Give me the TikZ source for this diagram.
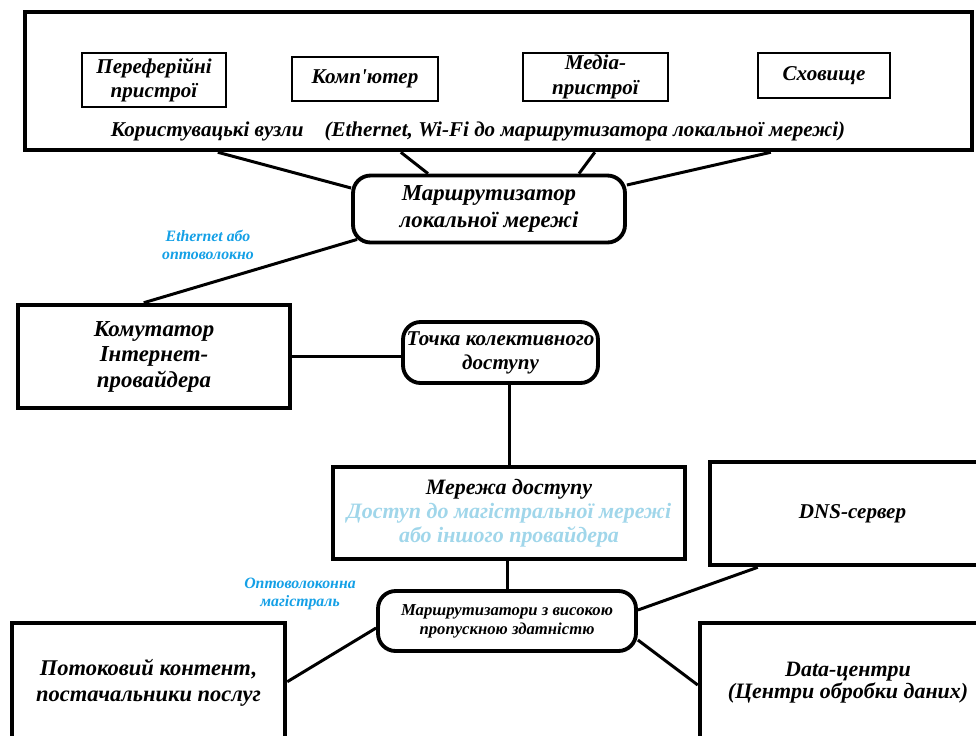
\documentclass[tikz,border=0pt]{standalone}
\usepackage{fontspec}
\setmainfont{Liberation Serif}
\usepackage{xcolor}
\usetikzlibrary{calc}
\definecolor{linkblue}{RGB}{20,160,230}
\definecolor{paleblue}{RGB}{160,214,234}

\begin{document}
\begin{tikzpicture}[x=0.02cm, y=-0.02cm,
  txt/.style 2 args={font=\bfseries\itshape\fontsize{#1}{#2}\selectfont, align=center},
  bigbox/.style={draw, line width=2.6pt, inner sep=0pt},
  smallbox/.style={draw, line width=0.8pt, inner sep=0pt},
  roundbox/.style={draw, line width=2.2pt, rounded corners=10pt, inner sep=0pt},
  link/.style={line width=1.7pt},
  linklabel/.style={txt={9}{10.5}, text=linkblue}]
\useasboundingbox (0,0) rectangle (976,735);
\clip (0,0) rectangle (976,735);
% user nodes
\node[bigbox, minimum width=18.94cm, minimum height=2.76cm] (users) at (498.5,81) {};
\node[smallbox, txt={12}{14}, minimum width=2.88cm, minimum height=1.08cm] (periph) at (154,80) {Переферійні\\пристрої};
\node[smallbox, txt={12}{14}, minimum width=2.92cm, minimum height=0.88cm] (comp) at (365,79) {Комп\textquotesingle ютер};
\node[smallbox, txt={12}{14}, minimum width=2.9cm, minimum height=0.96cm] (media) at (595.5,77) {Медіа-\\пристрої};
\node[smallbox, txt={12}{14}, minimum width=2.64cm, minimum height=0.9cm] (store) at (824,75.5) {Сховище};
\node[txt={12}{13.5}] (userslabel) at (478,131) {Користувацькі вузли\quad(Ethernet, Wi-Fi до маршрутизатора локальної мережі)};
% provider side
\node[roundbox, txt={13}{15}, minimum width=5.44cm, minimum height=1.34cm] (lanrouter) at (489,209) {Маршрутизатор\\локальної мережі};
\node[linklabel] (ethlabel) at (208,245) {Ethernet або\\оптоволокно};
\node[bigbox, txt={13}{14.5}, minimum width=5.44cm, minimum height=2.06cm] (switch) at (154,356.5) {Комутатор\\Інтернет-\\провайдера};
\node[roundbox, txt={12}{13.5}, minimum width=3.9cm, minimum height=1.22cm] (ixp) at (500.5,352.5) {Точка колективного\\доступу};
\node[bigbox, txt={12.5}{13.8}, minimum width=7.04cm, minimum height=1.84cm] (access) at (509,513) {Мережа доступу\\\textcolor{paleblue}{Доступ до магістральної мережі}\\\textcolor{paleblue}{або іншого провайдера}};
\node[bigbox, txt={12}{13.5}, minimum width=5.7cm, minimum height=2.06cm] (dns) at (852.5,513.5) {DNS-сервер};
% backbone
\node[roundbox, txt={9.5}{10.8}, minimum width=5.16cm, minimum height=1.2cm] (hsrouter) at (507,621) {Маршрутизатори з високою\\пропускною здатністю};
\node[linklabel] (fiberlabel) at (300,594) {Оптоволоконна\\магістраль};
\node[bigbox, txt={12.8}{14.5}, minimum width=5.46cm, minimum height=2.4cm] (stream) at (148.5,683) {Потоковий контент,\\постачальники послуг};
\node[bigbox, txt={12.5}{12.5}, minimum width=5.92cm, minimum height=2.4cm] (datac) at (848,683) {Data-центри\\(Центри обробки даних)};
% connectors
\draw[link] ($(users.south west)+(195,0)$) -- ($(lanrouter.west)+(0,-21)$);
\draw[link] ($(users.south west)+(378,0)$) -- ($(lanrouter.north)+(-61,0)$);
\draw[link] ($(users.south west)+(572,0)$) -- ($(lanrouter.north)+(90,0)$);
\draw[link] ($(users.south west)+(748,0)$) -- ($(lanrouter.east)+(0,-24)$);
\draw[link] ($(lanrouter.south west)+(6,-5)$) -- ($(switch.north west)+(128,0)$);
\draw[link] (switch.east) -- (switch.east -| ixp.west);
\draw[link] ($(ixp.south)+(9,0)$) -- ($(ixp.south |- access.north)+(9,0)$);
\draw[link] (hsrouter.north) -- (hsrouter.north |- access.south);
\draw[link] ($(hsrouter.west)+(0,7)$) -- ($(stream.north east)+(0,61)$);
\draw[link] ($(hsrouter.east)+(0,-11)$) -- ($(dns.south west)+(50,0)$);
\draw[link] ($(hsrouter.east)+(0,19)$) -- ($(datac.west)+(0,2)$);
\end{tikzpicture}
\end{document}
